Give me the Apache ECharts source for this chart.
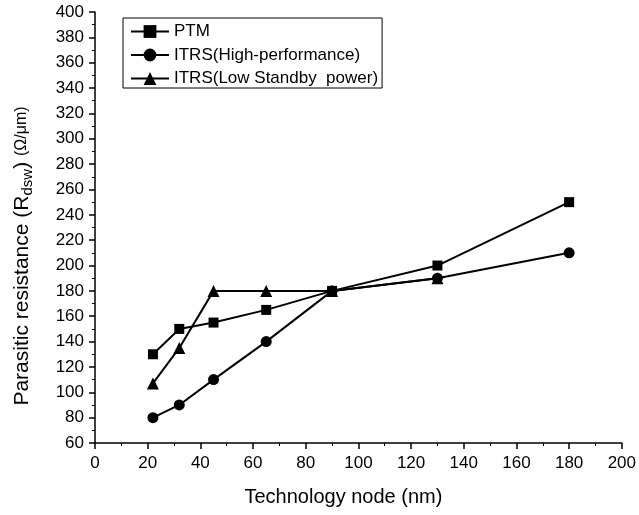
<!DOCTYPE html>
<html>
<head>
<meta charset="utf-8">
<script src="https://cdn.jsdelivr.net/npm/echarts@6/dist/echarts.min.js"></script>
<style>
  html, body { margin: 0; padding: 0; background: #fff; }
  #chart { width: 639px; height: 515px; }
</style>
</head>
<body>
<div id="chart"></div>
<script>
// Technology nodes (nm)
const nodes = [22, 32, 45, 65, 90, 130, 180];
// Parasitic resistance Rdsw (ohm·um)
const ptm = [130, 150, 155, 165, 180, 200, 250];
const itrsHP = [80, 90, 110, 140, 180, 190, 210];
const itrsLSTP = [107, 135, 180, 180, 180, 190];

const seriesNames = ['PTM', 'ITRS(High-performance)', 'ITRS(Low Standby  power)'];
const FONT = 'Arial, "Liberation Sans", sans-serif';

function pairs(xs, ys) {
  return ys.map((y, i) => [xs[i], y]);
}

function lineSeries(name, data, symbol, size) {
  return {
    name: name,
    type: 'line',
    data: data,
    symbol: symbol,
    symbolSize: size,
    lineStyle: { color: '#000', width: 2 },
    itemStyle: { color: '#000' },
    emphasis: { disabled: true },
    animation: false
  };
}

const chart = echarts.init(document.getElementById('chart'), null, { renderer: 'canvas' });

const axisCommon = {
  axisLine: { show: true, lineStyle: { color: '#000', width: 1.5 } },
  axisTick: { show: true, inside: false, length: 6, lineStyle: { color: '#000', width: 1.5 } },
  minorTick: { show: true, splitNumber: 2, length: 3, lineStyle: { color: '#000', width: 1 } },
  splitLine: { show: false },
  axisLabel: { color: '#000', fontSize: 17, fontFamily: FONT, margin: 11 }
};

chart.setOption({
  backgroundColor: '#fff',
  grid: { left: 95, right: 13, top: 12, bottom: 72, containLabel: false },
  xAxis: Object.assign({}, axisCommon, {
    type: 'value',
    min: 0, max: 200, interval: 20,
    name: 'Technology node (nm)',
    nameLocation: 'middle',
    nameGap: 44,
    nameTextStyle: { color: '#000', fontSize: 20, fontFamily: FONT, padding: [0, 30, 0, 0] },
    axisLabel: Object.assign({}, axisCommon.axisLabel, { showMaxLabel: true, margin: 12 })
  }),
  yAxis: Object.assign({}, axisCommon, {
    type: 'value',
    min: 60, max: 400, interval: 20
  }),
  graphic: [{
    type: 'text',
    x: 22, y: 256,
    rotation: Math.PI / 2,
    silent: true,
    style: {
      text: '{m|Parasitic resistance (R}{s|dsw}{m|)} {u|(Ω/μm)}',
      align: 'center',
      verticalAlign: 'middle',
      fill: '#000',
      font: '21px ' + FONT,
      rich: {
        m: { fontSize: 21, lineHeight: 26, fontFamily: FONT, fill: '#000' },
        s: { fontSize: 15, lineHeight: 12, verticalAlign: 'bottom', fontFamily: FONT, fill: '#000' },
        u: { fontSize: 16, lineHeight: 26, fontFamily: FONT, fill: '#000' }
      }
    }
  }],
  legend: {
    orient: 'vertical',
    left: 123, top: 18,
    padding: [5, 4, 1, 7],
    borderColor: '#000', borderWidth: 1,
    itemWidth: 38, itemHeight: 16, itemGap: 6.5, itemTextGap: 5,
    textStyle: { color: '#000', fontSize: 17, fontFamily: FONT },
    data: seriesNames
  },
  series: [
    lineSeries(seriesNames[0], pairs(nodes, ptm), 'rect', 10),
    lineSeries(seriesNames[1], pairs(nodes, itrsHP), 'circle', 11),
    lineSeries(seriesNames[2], pairs(nodes, itrsLSTP), 'triangle', 12)
  ]
});
</script>
</body>
</html>
